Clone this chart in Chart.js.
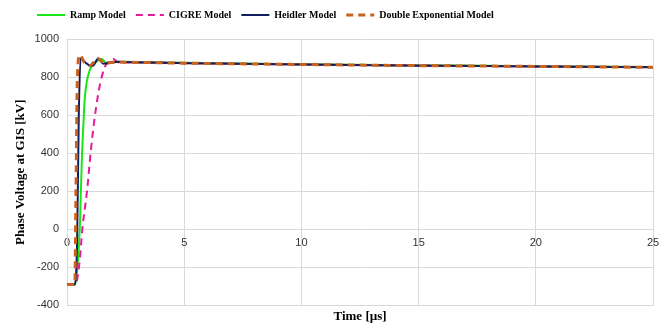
<!DOCTYPE html>
<html>
<head>
<meta charset="utf-8">
<script src="https://cdn.jsdelivr.net/npm/chart.js@4.4.0/dist/chart.umd.min.js"></script>
<style>
  body { margin: 0; background: #fff; }
  #wrap { width: 672px; height: 329px; }
</style>
</head>
<body>
<div id="wrap"><canvas id="voltageChart" width="672" height="329"></canvas></div>
<script>
// time in µs, voltage in kV
const rampT = [0, 0.35, 0.54, 0.59, 0.64, 0.7, 0.75, 0.83, 0.97, 1.18, 1.47, 1.68, 2.0, 3, 5, 10, 15, 20, 25];
const rampV = [-290, -290, 0, 200, 400, 560, 680, 768, 838, 873, 895, 874, 880, 879, 875, 867, 862, 857, 853];

const cigreT = [0, 0.35, 0.45, 0.55, 0.65, 0.85, 1.02, 1.15, 1.3, 1.42, 1.6, 1.8, 1.97, 2.2, 3, 5, 10, 15, 20, 25];
const cigreV = [-290, -290, -250, -150, 0, 200, 420, 560, 690, 770, 850, 885, 895, 876, 878, 874, 866, 861, 856, 852];

const heidlerT = [0, 0.33, 0.43, 0.5, 0.58, 0.75, 0.95, 1.1, 1.32, 1.55, 1.8, 2.2, 3, 5, 10, 15, 20, 25];
const heidlerV = [-290, -290, -50, 600, 900, 880, 862, 860, 896, 870, 874, 880, 877, 873, 866, 860, 856, 851];

const dexpT = [0, 0.33, 0.38, 0.44, 0.54, 0.75, 0.97, 1.15, 1.3, 1.6, 2.0, 3, 5, 10, 15, 20, 25];
const dexpV = [-290, -290, 200, 800, 916, 875, 859, 880, 899, 873, 878, 877, 873, 866, 860, 856, 851];

const xTicks = [0, 5, 10, 15, 20, 25];
const yTicks = [-400, -200, 0, 200, 400, 600, 800, 1000];

const pts = (ts, vs) => ts.map((t, i) => ({ x: t, y: vs[i] }));

// legend sits a bit right of the left edge, with extra room under it
const legendTweak = {
  id: 'legendTweak',
  afterInit(chart) {
    const fit = chart.legend.fit;
    chart.legend.fit = function () { fit.call(this); this.height += 9; };
  },
  afterLayout(chart) { chart.legend.left += 18; }
};

const legendLabels = chart =>
  Chart.defaults.plugins.legend.labels.generateLabels(chart).map(item => {
    const ds = chart.data.datasets[item.datasetIndex];
    item.lineDash = ds.borderDash || [];
    item.lineWidth = ds.borderWidth;
    item.strokeStyle = ds.borderColor;
    return item;
  });

new Chart(document.getElementById('voltageChart'), {
    type: 'line',
    data: {
        datasets: [{
            label: 'Ramp Model',
            data: pts(rampT, rampV),
            borderColor: '#19e619',
            borderWidth: 2,
            order: 3
        }, {
            label: 'CIGRE Model',
            data: pts(cigreT, cigreV),
            borderColor: '#e6199a',
            borderWidth: 2,
            borderDash: [7, 5],
            order: 2
        }, {
            label: 'Heidler Model',
            data: pts(heidlerT, heidlerV),
            borderColor: '#0d1f5c',
            borderWidth: 2,
            order: 1
        }, {
            label: 'Double Exponential Model',
            data: pts(dexpT, dexpV),
            borderColor: '#c8621e',
            borderWidth: 3,
            borderDash: [7, 5],
            order: 0
        }]
    },
    options: {
        responsive: false,
        animation: false,
        layout: { padding: { left: 9, right: 19, top: 0, bottom: 3 } },
        elements: {
            point: { radius: 0 },
            line: { cubicInterpolationMode: 'monotone', fill: false }
        },
        plugins: {
            legend: {
                align: 'start',
                labels: {
                    usePointStyle: true,
                    pointStyle: 'line',
                    pointStyleWidth: 28,
                    padding: 10,
                    color: '#000',
                    font: { family: '"Liberation Serif", serif', size: 10, weight: 'bold' },
                    generateLabels: legendLabels,
                    sort: (a, b) => a.datasetIndex - b.datasetIndex
                }
            },
            tooltip: { enabled: false }
        },
        scales: {
            x: {
                type: 'linear',
                min: 0,
                max: 25,
                afterBuildTicks: axis => { axis.ticks = xTicks.map(v => ({ value: v })); },
                ticks: { display: false },
                grid: { color: '#d9d9d9', drawTicks: false },
                border: { color: '#d9d9d9' },
                title: {
                    display: true,
                    text: 'Time [µs]',
                    color: '#000',
                    padding: { top: 3, bottom: 2 },
                    font: { family: '"Liberation Serif", serif', size: 13, weight: 'bold' }
                }
            },
            x2: {
                type: 'linear',
                position: { y: 0 },
                min: 0,
                max: 25,
                afterBuildTicks: axis => { axis.ticks = xTicks.map(v => ({ value: v })); },
                ticks: {
                    color: '#333', padding: 7,
                    font: { family: '"Liberation Sans", Arial', size: 11 },
                    callback: v => String(v)
                },
                grid: { display: false, drawTicks: false },
                border: { display: false }
            },
            y: {
                min: -400,
                max: 1000,
                afterBuildTicks: axis => { axis.ticks = yTicks.map(v => ({ value: v })); },
                ticks: {
                    color: '#333', padding: 8,
                    font: { family: '"Liberation Sans", Arial', size: 11 },
                    callback: v => String(v)
                },
                grid: { color: '#d9d9d9', drawTicks: false },
                border: { color: '#d9d9d9' },
                title: {
                    display: true,
                    text: 'Phase Voltage at GIS [kV]',
                    color: '#000',
                    padding: { top: 4, bottom: -2 },
                    font: { family: '"Liberation Serif", serif', size: 13, weight: 'bold' }
                }
            }
        }
    },
    plugins: [legendTweak]
});
</script>
</body>
</html>
